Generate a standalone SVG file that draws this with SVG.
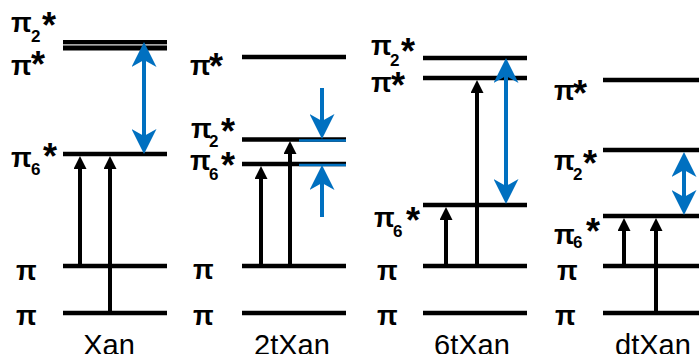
<svg xmlns="http://www.w3.org/2000/svg" width="699" height="354" viewBox="0 0 699 354">
<style>
.lv{stroke:#000;stroke-width:4.5;fill:none}
.bl{stroke:#0070C0;stroke-width:2.5;fill:none}
.p{font-family:"Liberation Sans",Arial,sans-serif;font-weight:bold;font-size:27px;fill:#000}
.s{font-size:17px}
.a{font-size:36px}
.nm{font-family:"Liberation Sans",Arial,sans-serif;font-size:29px;fill:#000;text-anchor:middle}
.ka{stroke:#000;stroke-width:4;fill:none;marker-end:url(#kh)}
.ba{stroke:#0070C0;stroke-width:4;fill:none;marker-end:url(#bh)}
.bd{stroke:#0070C0;stroke-width:4;fill:none;marker-end:url(#bh);marker-start:url(#bh)}
</style>
<defs>
<marker id="kh" viewBox="0 -6.5 13 13" markerWidth="13" markerHeight="13" markerUnits="userSpaceOnUse" refX="1" refY="0" orient="auto-start-reverse"><path d="M0,-6.5 L13,0 L0,6.5 z" fill="#000"/></marker>
<marker id="bh" viewBox="0 -12.5 25 25" markerWidth="25" markerHeight="25" markerUnits="userSpaceOnUse" refX="8" refY="0" orient="auto-start-reverse"><path d="M0,-12.5 L25,0 L0,12.5 L7,0 z" fill="#0070C0"/></marker>
</defs>

<g id="xan">
<g id="xan-pi2s"><line class="lv" x1="63" y1="42" x2="167" y2="42" style="stroke-width:4"/><text class="p" x="11" y="32">π<tspan class="s" x="31" y="42">2</tspan><tspan class="a" x="42" y="38">*</tspan></text></g>
<line x1="63" y1="44.6" x2="167" y2="44.6" stroke="#a6a6a6" stroke-width="1.4"/>
<g id="xan-pis"><line class="lv" x1="63" y1="48" x2="167" y2="48" style="stroke-width:5"/><text class="p" x="11" y="75">π<tspan class="a" x="31" y="77">*</tspan></text></g>
<g id="xan-pi6s"><line class="lv" x1="63" y1="154" x2="167" y2="154"/><text class="p" x="11" y="167">π<tspan class="s" x="31" y="175">6</tspan><tspan class="a" x="43" y="169">*</tspan></text></g>
<g id="xan-pi1"><line class="lv" x1="63" y1="266" x2="167" y2="266"/><text class="p" x="16" y="280">π</text></g>
<g id="xan-pi0"><line class="lv" x1="63" y1="313" x2="167" y2="313"/><text class="p" x="16" y="325">π</text></g>
<text class="nm" x="109" y="355">Xan</text>
</g>

<g id="t2xan">
<g id="t2-pis"><line class="lv" x1="242" y1="57" x2="346" y2="57"/><text class="p" x="190" y="75">π<tspan class="a" x="209" y="79">*</tspan></text></g>
<g id="t2-pi2s"><line class="lv" x1="242" y1="139.5" x2="346" y2="139.5"/><line class="bl" x1="299" y1="140.5" x2="346" y2="140.5"/><text class="p" x="191" y="138">π<tspan class="s" x="209" y="147">2</tspan><tspan class="a" x="221" y="144">*</tspan></text></g>
<g id="t2-pi6s"><line class="lv" x1="242" y1="164" x2="346" y2="164"/><line class="bl" x1="299" y1="165" x2="346" y2="165"/><text class="p" x="190" y="170">π<tspan class="s" x="209" y="180">6</tspan><tspan class="a" x="221" y="178">*</tspan></text></g>
<g id="t2-pi1"><line class="lv" x1="242" y1="266" x2="346" y2="266"/><text class="p" x="193" y="279">π</text></g>
<g id="t2-pi0"><line class="lv" x1="242" y1="313" x2="346" y2="313"/><text class="p" x="193" y="325">π</text></g>
<text class="nm" x="292" y="355">2tXan</text>
</g>

<g id="t6xan">
<g id="t6-pi2s"><line class="lv" x1="423" y1="58" x2="527" y2="58"/><text class="p" x="371" y="55">π<tspan class="s" x="390" y="66">2</tspan><tspan class="a" x="401" y="64">*</tspan></text></g>
<g id="t6-pis"><line class="lv" x1="423" y1="78" x2="527" y2="78"/><text class="p" x="371" y="92">π<tspan class="a" x="391" y="98">*</tspan></text></g>
<g id="t6-pi6s"><line class="lv" x1="423" y1="205" x2="527" y2="205"/><text class="p" x="374" y="227">π<tspan class="s" x="393" y="237">6</tspan><tspan class="a" x="406" y="233">*</tspan></text></g>
<g id="t6-pi1"><line class="lv" x1="423" y1="266" x2="527" y2="266"/><text class="p" x="377" y="280">π</text></g>
<g id="t6-pi0"><line class="lv" x1="423" y1="313" x2="527" y2="313"/><text class="p" x="377" y="325">π</text></g>
<text class="nm" x="472" y="355">6tXan</text>
</g>

<g id="dtxan">
<g id="dt-pis"><line class="lv" x1="603" y1="80" x2="699" y2="80"/><text class="p" x="554" y="100">π<tspan class="a" x="573" y="106">*</tspan></text></g>
<g id="dt-pi2s"><line class="lv" x1="603" y1="150" x2="699" y2="150"/><text class="p" x="554" y="170">π<tspan class="s" x="573" y="180">2</tspan><tspan class="a" x="583" y="176">*</tspan></text></g>
<g id="dt-pi6s"><line class="lv" x1="603" y1="216" x2="699" y2="216"/><text class="p" x="554" y="244">π<tspan class="s" x="573" y="248">6</tspan><tspan class="a" x="586" y="244">*</tspan></text></g>
<g id="dt-pi1"><line class="lv" x1="603" y1="266" x2="699" y2="266"/><text class="p" x="557" y="280">π</text></g>
<g id="dt-pi0"><line class="lv" x1="603" y1="313" x2="699" y2="313"/><text class="p" x="555" y="325">π</text></g>
<text class="nm" x="653" y="355">dtXan</text>
</g>

<g id="connectors">
<line class="ka" x1="80" y1="266" x2="80" y2="168"/>
<line class="ka" x1="110" y1="313" x2="110" y2="168"/>
<line class="bd" x1="144" y1="59" x2="144" y2="137"/>
<line class="ka" x1="261" y1="266" x2="261" y2="178"/>
<line class="ka" x1="290" y1="266" x2="290" y2="153"/>
<line class="ba" x1="322" y1="88" x2="322" y2="122"/>
<line class="ba" x1="322" y1="217" x2="322" y2="182"/>
<line class="ka" x1="446" y1="266" x2="446" y2="219"/>
<line class="ka" x1="477" y1="266" x2="477" y2="92"/>
<line class="bd" x1="506" y1="75" x2="506" y2="187"/>
<line class="ka" x1="624" y1="266" x2="624" y2="230"/>
<line class="ka" x1="656" y1="313" x2="656" y2="230"/>
<line class="bd" x1="684" y1="169" x2="684" y2="198"/>
</g>
</svg>
